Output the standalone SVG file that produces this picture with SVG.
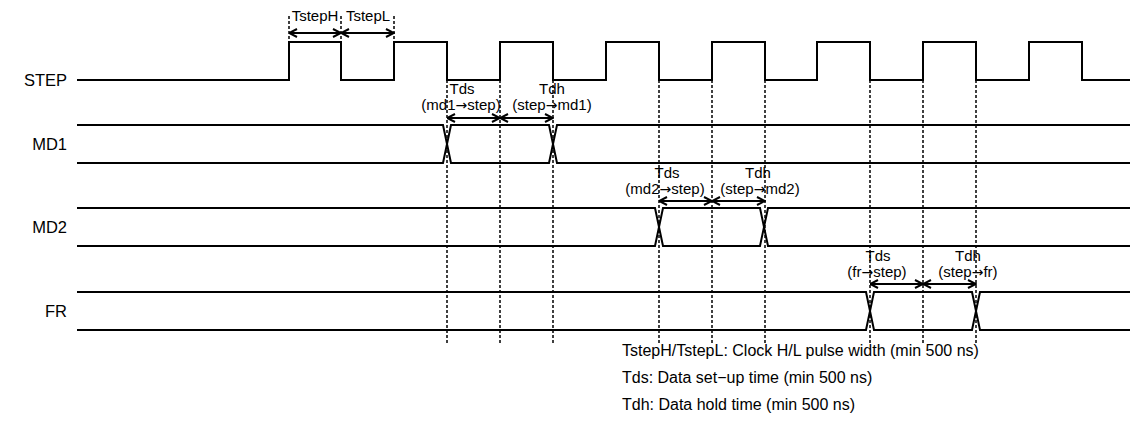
<svg xmlns="http://www.w3.org/2000/svg" width="1130" height="438" viewBox="0 0 1130 438">
<style>
.w{fill:none;stroke:#000;stroke-width:2;stroke-linejoin:miter}
.d{fill:none;stroke:#000;stroke-width:1.5;stroke-dasharray:3 2}
.a{fill:none;stroke:#000;stroke-width:2;marker-start:url(#ah);marker-end:url(#ah)}
.lbl{font-family:"Liberation Sans",Arial,sans-serif;font-size:16.5px;fill:#000;text-anchor:end}
.sm{font-family:"Liberation Sans",Arial,sans-serif;font-size:15px;fill:#000;text-anchor:middle}
.ar{font-family:"DejaVu Sans",sans-serif;font-size:14px}
.nt{font-family:"Liberation Sans",Arial,sans-serif;font-size:16px;fill:#000}
</style>
<defs>
<marker id="ah" viewBox="0 0 10 10" refX="9.5" refY="5" markerWidth="10" markerHeight="10" orient="auto-start-reverse" markerUnits="userSpaceOnUse">
<path d="M1.5,1 L9.5,5 L1.5,9" fill="none" stroke="#000" stroke-width="2"/>
</marker>
</defs>
<rect width="1130" height="438" fill="#fff"/>

<g id="STEP">
<text class="lbl" x="67" y="86">STEP</text>
<path class="w" d="M77,80 H289 V42 H341 V80 H394 V42 H447 V80 H500 V42 H553 V80 H606 V42 H659 V80 H712 V42 H765 V80 H817 V42 H870 V80 H923 V42 H976 V80 H1029 V42 H1082 V80 H1130"/>
</g>

<g id="MD1">
<text class="lbl" x="67" y="150">MD1</text>
<path class="w" d="M77,125 H443 L451,163 H549 L557,125 H1130 M77,163 H443 L451,125 H549 L557,163 H1130"/>
</g>

<g id="MD2">
<text class="lbl" x="67" y="233">MD2</text>
<path class="w" d="M77,208 H655 L663,246 H760 L768,208 H1130 M77,246 H655 L663,208 H760 L768,246 H1130"/>
</g>

<g id="FR">
<text class="lbl" x="67" y="317">FR</text>
<path class="w" d="M77,292 H866 L874,330 H972 L980,292 H1130 M77,330 H866 L874,292 H972 L980,330 H1130"/>
</g>

<g id="connectors">
<path class="d" d="M289,16 V42 M341,16 V42 M394,16 V42"/>
<path class="d" d="M447,80 V343 M500,80 V343 M553,80 V343 M659,80 V343 M712,80 V343 M765,80 V343 M870,80 V343 M923,80 V343 M976,80 V343"/>
<line class="a" x1="289" y1="33" x2="341" y2="33"/>
<line class="a" x1="341" y1="33" x2="394" y2="33"/>
<line class="a" x1="447" y1="118" x2="500" y2="118"/>
<line class="a" x1="500" y1="118" x2="553" y2="118"/>
<line class="a" x1="659" y1="201" x2="712" y2="201"/>
<line class="a" x1="712" y1="201" x2="765" y2="201"/>
<line class="a" x1="870" y1="284" x2="923" y2="284"/>
<line class="a" x1="923" y1="284" x2="976" y2="284"/>
</g>

<g id="labels">
<text class="sm" x="315" y="21">TstepH</text>
<text class="sm" x="368" y="21">TstepL</text>
<text class="sm" x="462" y="94">Tds</text>
<text class="sm" x="461" y="110">(md1<tspan class="ar">→</tspan>step)</text>
<text class="sm" x="552" y="94">Tdh</text>
<text class="sm" x="552" y="110">(step<tspan class="ar">→</tspan>md1)</text>
<text class="sm" x="667" y="178">Tds</text>
<text class="sm" x="665" y="194">(md2<tspan class="ar">→</tspan>step)</text>
<text class="sm" x="758" y="178">Tdh</text>
<text class="sm" x="760" y="194">(step<tspan class="ar">→</tspan>md2)</text>
<text class="sm" x="878" y="261">Tds</text>
<text class="sm" x="877" y="277">(fr<tspan class="ar">→</tspan>step)</text>
<text class="sm" x="968" y="261">Tdh</text>
<text class="sm" x="968" y="277">(step<tspan class="ar">→</tspan>fr)</text>
</g>

<g id="notes">
<text class="nt" x="622" y="356">TstepH/TstepL: Clock H/L pulse width (min 500 ns)</text>
<text class="nt" x="622" y="383">Tds: Data set−up time (min 500 ns)</text>
<text class="nt" x="622" y="410">Tdh: Data hold time (min 500 ns)</text>
</g>
</svg>
